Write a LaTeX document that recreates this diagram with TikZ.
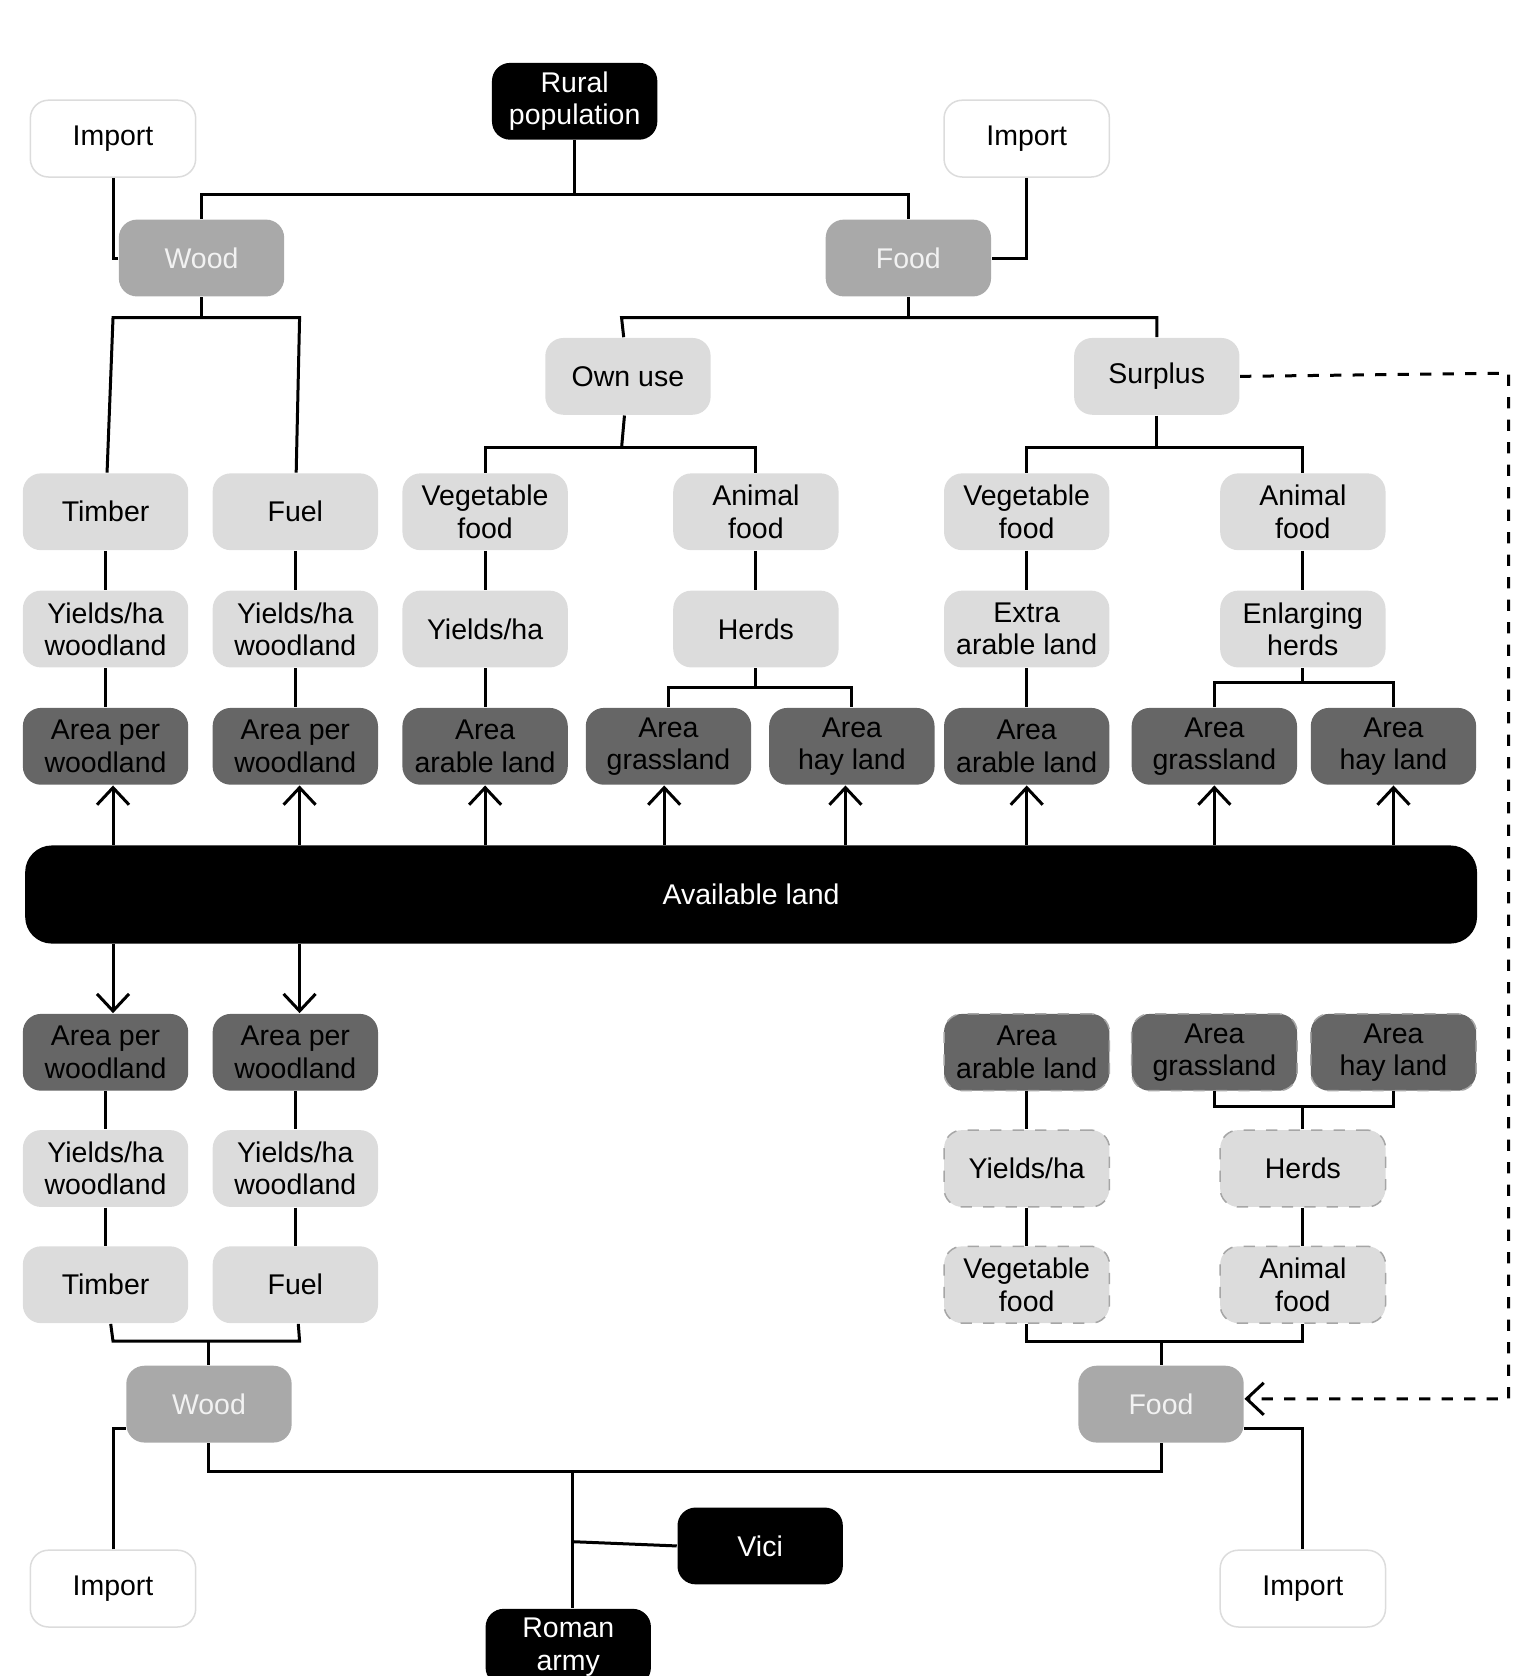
\documentclass[tikz,border=0pt]{standalone}
\usepackage{fontspec}
\setmainfont{Liberation Sans}
\usetikzlibrary{positioning,arrows.meta}
\definecolor{MidGray}{HTML}{A9A9A9}
\definecolor{LightGray}{HTML}{DCDCDC}
\definecolor{DarkGray}{HTML}{666666}
\begin{document}
\begin{tikzpicture}[x=0.01cm, y=-0.01cm,
      every node/.style={align=center, font=\fontsize{7.6}{8.6}\selectfont},
      box/.style={rounded corners=0.17cm, minimum width=1.55cm, minimum height=0.72cm, inner sep=1pt},
      black box/.style={box, fill=black, text=white},
      import/.style={box, draw=LightGray, fill=white},
      total/.style={box, fill=MidGray, text=white!90!gray},
      light/.style={box, fill=LightGray},
      area/.style={box, fill=DarkGray, text=black},
      future/.style={draw=gray!70, dashed},
      line/.style={thick},
      arrow/.style={thick, -{Straight Barb[length=1.6mm, width=3mm]}}
    ]
      \useasboundingbox (0,0) rectangle (1440,1572);
      % Top half
      \node[black box] (rural) at (539,95) {Rural\\population};
      \node[import] (impTL) at (106,130) {Import};
      \node[import] (impTR) at (963,130) {Import};
      \node[total] (woodT) at (189,242) {Wood};
      \node[total] (foodT) at (852,242) {Food};
      \node[light] (own) at (589,353) {Own use};
      \node[light] (surplus) at (1085,353) {Surplus};
      \node[light] (timberT) at (99,480) {Timber};
      \node[light] (fuelT) at (277,480) {Fuel};
      \node[light] (vegO) at (455,480) {Vegetable\\food};
      \node[light] (aniO) at (709,480) {Animal\\food};
      \node[light] (vegS) at (963,480) {Vegetable\\food};
      \node[light] (aniS) at (1222,480) {Animal\\food};
      \node[light] (yTimT) at (99,590) {Yields/ha\\woodland};
      \node[light] (yFueT) at (277,590) {Yields/ha\\woodland};
      \node[light] (yVegO) at (455,590) {Yields/ha};
      \node[light] (herdsO) at (709,590) {Herds};
      \node[light] (extra) at (963,590) {Extra\\arable land};
      \node[light] (enlarge) at (1222,590) {Enlarging\\herds};
      \node[area] (aTimT) at (99,700) {Area per\\woodland};
      \node[area] (aFueT) at (277,700) {Area per\\woodland};
      \node[area] (aAraO) at (455,700) {Area\\arable land};
      \node[area] (aGraO) at (627,700) {Area\\grassland};
      \node[area] (aHayO) at (799,700) {Area\\hay land};
      \node[area] (aAraS) at (963,700) {Area\\arable land};
      \node[area] (aGraS) at (1139,700) {Area\\grassland};
      \node[area] (aHayS) at (1307,700) {Area\\hay land};
      % Available land
      \node[black box, minimum width=13.61cm, minimum height=0.92cm, rounded corners=0.25cm] (land) at (704.5,839) {Available land};
      % Bottom half
      \node[area] (aTimB) at (99,987) {Area per\\woodland};
      \node[area] (aFueB) at (277,987) {Area per\\woodland};
      \node[area, future] (aAraB) at (963,987) {Area\\arable land};
      \node[area, future] (aGraB) at (1139,987) {Area\\grassland};
      \node[area, future] (aHayB) at (1307,987) {Area\\hay land};
      \node[light] (yTimB) at (99,1096) {Yields/ha\\woodland};
      \node[light] (yFueB) at (277,1096) {Yields/ha\\woodland};
      \node[light, future] (yVegB) at (963,1096) {Yields/ha};
      \node[light, future] (herdsB) at (1222,1096) {Herds};
      \node[light] (timberB) at (99,1205) {Timber};
      \node[light] (fuelB) at (277,1205) {Fuel};
      \node[light, future] (vegB) at (963,1205) {Vegetable\\food};
      \node[light, future] (aniB) at (1222,1205) {Animal\\food};
      \node[total] (woodB) at (196,1317) {Wood};
      \node[total] (foodB) at (1089,1317) {Food};
      \node[import] (impBL) at (106,1490) {Import};
      \node[import] (impBR) at (1222,1490) {Import};
      \node[black box] (vici) at (713,1450) {Vici};
      \node[black box] (army) at (533,1545) {Roman\\army};
      % Top connectors
      \draw[line] (rural) -- (539,182) coordinate (c1);
      \draw[line] (woodT) -- (189,182) -- (852,182) -- (foodT);
      \draw[line] (impTL) -- (106,242) -- (woodT.west);
      \draw[line] (impTR) -- (963,242) -- (foodT.east);
      \draw[line] (woodT) -- (189,298) coordinate (c2);
      \draw[line] (timberT) -- (106,298) -- (281,298) -- (fuelT);
      \draw[line] (foodT) -- (852,298);
      \draw[line] (own) -- (583,298) -- (1085,298) -- (surplus);
      \draw[line] (own) -- (583,420);
      \draw[line] (vegO) -- (455,420) -- (709,420) -- (aniO);
      \draw[line] (surplus) -- (1085,420);
      \draw[line] (vegS) -- (963,420) -- (1222,420) -- (aniS);
      \foreach \a/\b in {timberT/yTimT, yTimT/aTimT, fuelT/yFueT, yFueT/aFueT,
          vegO/yVegO, yVegO/aAraO, aniO/herdsO, vegS/extra, extra/aAraS, aniS/enlarge}
        \draw[line] (\a) -- (\b);
      \draw[line] (herdsO) -- (709,645);
      \draw[line] (aGraO) -- (627,645) -- (799,645) -- (aHayO);
      \draw[line] (enlarge) -- (1222,640);
      \draw[line] (aGraS) -- (1139,640) -- (1307,640) -- (aHayS);
      % Arrows from available land
      \foreach \n/\x in {aTimT/106, aFueT/281, aAraO/455, aGraO/623, aHayO/793, aAraS/963, aGraS/1139, aHayS/1307}
        \draw[arrow] (land.north -| {\x,0}) -- (\n.south -| {\x,0});
      \draw[arrow] (land.south -| {106,0}) -- (aTimB.north -| {106,0});
      \draw[arrow] (land.south -| {281,0}) -- (aFueB.north -| {281,0});
      % Bottom connectors
      \foreach \a/\b in {aTimB/yTimB, yTimB/timberB, aFueB/yFueB, yFueB/fuelB,
          aAraB/yVegB, yVegB/vegB, herdsB/aniB}
        \draw[line] (\a) -- (\b);
      \draw[line] (aGraB) -- (1139,1038) -- (1307,1038) -- (aHayB);
      \draw[line] (herdsB) -- (1222,1038);
      \draw[line] (timberB) -- (106,1258) -- (281,1258) -- (fuelB);
      \draw[line] (woodB) -- (196,1258);
      \draw[line] (vegB) -- (963,1258) -- (1222,1258) -- (aniB);
      \draw[line] (foodB) -- (1089,1258);
      \draw[line] (woodB) -- (196,1380) -- (1089,1380) -- (foodB);
      \draw[line] (537,1380) -- (army.north -| {537,0});
      \draw[line] (537,1446) -- (vici.west);
      \draw[line] (impBL) -- (106,1340) -- (woodB.west |- {0,1340});
      \draw[line] (impBR) -- (1222,1340) -- (foodB.east |- {0,1340});
      % Surplus feedback
      \draw[arrow, dashed] (surplus.east) -- (1415,350) -- (1415,1312) -- (foodB.east |- {0,1312});
    \end{tikzpicture}
\end{document}
